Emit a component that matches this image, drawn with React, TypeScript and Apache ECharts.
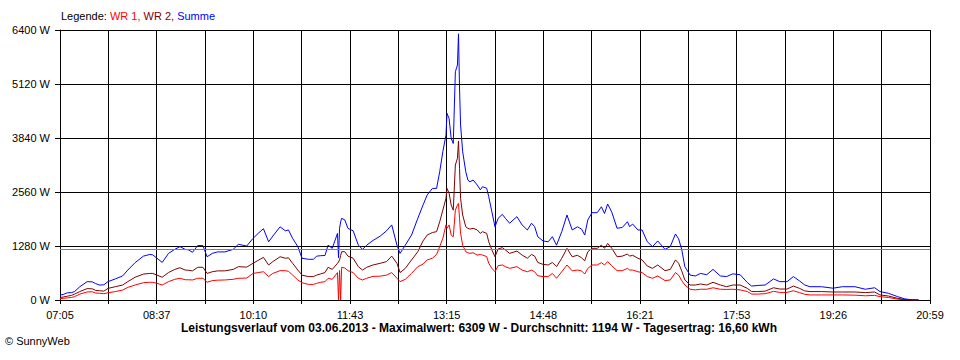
import React, { useEffect, useRef } from "react";
import * as echarts from "echarts";

const times = [
  "07:05","07:08","07:12","07:16","07:19","07:24","07:31","07:36","07:39","07:43","07:47","07:51","07:58",
  "08:05","08:10","08:17","08:25","08:31","08:34","08:38","08:43","08:49","08:55","09:00","09:05","09:08",
  "09:12","09:17","09:22","09:26","09:31","09:36","09:43","09:51","09:56","10:04","10:10","10:15","10:20",
  "10:25","10:29","10:36","10:41","10:44","10:48","10:53","10:57","11:03","11:08","11:11","11:15","11:19",
  "11:22","11:26","11:31","11:32","11:33","11:34","11:35","11:38","11:41","11:46","11:51","11:55","11:59",
  "12:05","12:12","12:18","12:23","12:28","12:31","12:36","12:42","12:48","12:53","12:57","13:02","13:06",
  "13:09","13:12","13:15","13:16","13:18","13:20","13:22","13:24","13:26","13:27","13:28","13:29","13:31",
  "13:34","13:36","13:38","13:41","13:45","13:48","13:50","13:54","13:56","13:59","14:02","14:05","14:09",
  "14:12","14:16","14:23","14:28","14:33","14:37","14:40","14:43","14:48","14:53","14:57","15:01","15:06",
  "15:11","15:16","15:21","15:25","15:28","15:31","15:35","15:40","15:44","15:47","15:50","15:54","15:59",
  "16:04","16:09","16:11","16:14","16:19","16:23","16:28","16:33","16:38","16:45","16:50","16:55","16:58",
  "17:01","17:04","17:09","17:14","17:19","17:25","17:31","17:38","17:44","17:50","17:57","18:04","18:08",
  "18:14","18:21","18:29","18:35","18:42","18:48","18:54","18:59","19:04","19:15","19:26","19:35","19:47",
  "19:57","20:06","20:11","20:19","20:28","20:35","20:42","20:48"
];

const wr1 = [
  30,40,50,60,80,140,190,195,165,160,150,170,200,
  235,300,355,410,420,420,395,355,435,490,515,480,480,
  475,515,515,420,460,470,475,490,515,520,630,650,670,
  555,630,695,695,680,590,475,410,370,370,395,420,435,
  515,490,650,0,700,0,775,760,695,650,515,475,515,
  560,565,590,650,515,435,490,630,790,850,950,990,1080,
  1265,1460,1780,1700,1780,1540,1500,2130,2250,2290,1935,1580,1300,
  1145,1120,1105,1120,1065,1080,1065,1030,870,750,670,815,830,
  790,750,790,710,670,710,670,575,555,555,630,515,670,
  830,690,710,690,615,750,830,830,885,830,910,810,695,
  695,750,710,710,670,650,555,515,570,460,475,650,590,
  460,355,255,240,255,255,290,255,250,255,240,200,140,
  140,150,205,180,180,220,175,135,120,120,120,120,115,
  100,110,80,60,20,5,0,0
];

const wr2 = [
  60,70,90,110,140,200,270,265,230,220,210,275,315,
  355,435,540,615,630,630,590,540,650,725,765,710,705,
  690,775,775,630,670,690,690,725,790,780,870,940,1010,
  830,910,1025,990,1000,870,710,590,555,555,590,620,650,
  775,725,870,900,950,1050,1145,1145,1040,990,790,710,775,
  830,870,910,1040,870,650,750,950,1145,1400,1540,1600,1620,
  1855,2130,2410,2645,2530,2250,2130,3200,3360,3770,3120,2410,2015,
  1735,1700,1680,1700,1660,1580,1620,1580,1380,1185,1025,1210,1240,
  1185,1105,1160,1065,990,1080,1040,890,845,830,890,790,990,
  1225,1025,1060,1000,930,1145,1225,1225,1300,1225,1340,1225,1025,
  1040,1090,1040,1060,990,950,805,750,830,695,725,950,870,
  690,475,355,355,380,355,420,355,315,355,355,275,200,
  200,210,290,260,260,330,275,215,200,200,190,190,190,
  175,190,120,95,40,10,0,0
];

const summe = [
  120,130,170,175,200,315,435,430,390,355,360,435,500,
  570,710,885,1040,1080,1070,990,890,1105,1200,1265,1200,1190,
  1130,1290,1290,1025,1105,1140,1140,1200,1320,1280,1460,1580,1690,
  1380,1515,1735,1640,1660,1460,1265,990,965,965,1040,1050,1055,
  1300,1225,1580,1000,1700,1850,1935,1900,1700,1640,1300,1200,1300,
  1410,1515,1640,1780,1300,1105,1300,1540,1935,2250,2490,2645,2645,
  3040,3515,3910,4425,4300,3830,3710,5410,5570,6309,5025,4150,3515,
  3040,2845,2800,2845,2725,2610,2685,2650,2450,2090,1735,1935,2030,
  1935,1820,1975,1780,1660,1820,1740,1500,1400,1380,1500,1300,1620,
  2015,1660,1735,1680,1540,1900,2070,2070,2210,2050,2275,2080,1700,
  1720,1855,1740,1800,1660,1660,1380,1265,1400,1200,1265,1565,1450,
  1200,790,590,570,630,600,725,570,555,620,600,410,330,
  345,355,500,435,435,555,450,355,315,315,280,315,315,
  255,290,200,160,80,25,5,0
];

const yTicks = [0, 1280, 2560, 3840, 5120, 6400];
const average = 1194;
const startTime = "07:05";
const endTime = "20:59";
const xDivisions = 18;

const legendText = ["Legende: ", "WR 1, ", "WR 2, ", "Summe"];
const titleText =
  "Leistungsverlauf vom 03.06.2013 - Maximalwert: 6309 W - Durchschnitt: 1194 W - Tagesertrag: 16,60 kWh";
const copyrightText = "\u00A9 SunnyWeb";

const toSec = (t: string) => {
  const [h, m] = t.split(":").map(Number);
  return (h * 60 + m) * 60;
};

const FONT = '"Liberation Sans", Arial, sans-serif';

export default function App() {
  const ref = useRef<HTMLDivElement>(null);

  useEffect(() => {
    if (!ref.current) return;
    const chart = echarts.init(ref.current, null, { renderer: "svg" });
    const t0 = toSec(startTime);
    const span = toSec(endTime) - t0;
    const step = span / xDivisions;
    const mk = (arr: number[]) => times.map((t, i) => [toSec(t) - t0, arr[i]]);
    const pad = (n: number) => (n < 10 ? "0" : "") + n;

    chart.setOption({
      animation: false,
      backgroundColor: "#ffffff",
      textStyle: { fontFamily: FONT },
      grid: { left: 60, right: 30, top: 30, bottom: 60, containLabel: false },
      xAxis: {
        type: "value",
        min: 0,
        max: span,
        interval: step,
        axisLine: { show: true, lineStyle: { color: "#000", width: 1 } },
        axisTick: { show: true, length: 4, lineStyle: { color: "#000" } },
        splitLine: { show: true, lineStyle: { color: "#000", width: 1 } },
        axisLabel: {
          color: "#000",
          fontSize: 11,
          fontFamily: FONT,
          margin: 9,
          showMinLabel: true,
          showMaxLabel: true,
          formatter: (v: number) => {
            const i = Math.round(v / step);
            if (i % 2 !== 0) return "";
            const total = Math.floor((t0 + v) / 60 + 1e-6);
            return pad(Math.floor(total / 60)) + ":" + pad(total % 60);
          },
        },
      },
      yAxis: {
        type: "value",
        min: yTicks[0],
        max: yTicks[yTicks.length - 1],
        interval: yTicks[1] - yTicks[0],
        axisLine: { show: true, lineStyle: { color: "#000", width: 1 } },
        axisTick: { show: true, length: 5, lineStyle: { color: "#000" } },
        splitLine: { show: true, lineStyle: { color: "#000", width: 1 } },
        axisLabel: {
          color: "#000",
          fontSize: 11,
          fontFamily: FONT,
          margin: 10,
          formatter: (v: number) => v + " W",
        },
      },
      series: [
        {
          name: "WR 1",
          type: "line",
          data: mk(wr1),
          symbol: "none",
          lineStyle: { color: "#ff0000", width: 1 },
          itemStyle: { color: "#ff0000" },
        },
        {
          name: "WR 2",
          type: "line",
          data: mk(wr2),
          symbol: "none",
          lineStyle: { color: "#800000", width: 1 },
          itemStyle: { color: "#800000" },
        },
        {
          name: "Summe",
          type: "line",
          data: mk(summe),
          symbol: "none",
          lineStyle: { color: "#0000ff", width: 1 },
          itemStyle: { color: "#0000ff" },
          markLine: {
            silent: true,
            symbol: ["none", "none"],
            label: { show: false },
            lineStyle: { color: "#808080", type: "solid", width: 1 },
            data: [{ yAxis: average }],
          },
        },
      ],
      graphic: [
        {
          type: "text",
          x: 61,
          y: 16,
          style: {
            text:
              "{k|" + legendText[0] + "}{a|" + legendText[1] + "}{b|" + legendText[2] + "}{c|" + legendText[3] + "}",
            font: "11px " + FONT,
            verticalAlign: "middle",
            textVerticalAlign: "middle",
            rich: {
              k: { fill: "#000000", color: "#000000", fontSize: 11, fontFamily: FONT },
              a: { fill: "#ff0000", color: "#ff0000", fontSize: 11, fontFamily: FONT },
              b: { fill: "#800000", color: "#800000", fontSize: 11, fontFamily: FONT },
              c: { fill: "#0000ff", color: "#0000ff", fontSize: 11, fontFamily: FONT },
            },
          },
        },
        {
          type: "text",
          x: 479,
          y: 328,
          style: {
            text: titleText,
            font: "bold 12px " + FONT,
            fill: "#000",
            align: "center",
            textAlign: "center",
            verticalAlign: "middle",
            textVerticalAlign: "middle",
          },
        },
        {
          type: "text",
          x: 5,
          y: 341,
          style: {
            text: copyrightText,
            font: "11px " + FONT,
            fill: "#000",
            verticalAlign: "middle",
            textVerticalAlign: "middle",
          },
        },
      ],
    });
    return () => chart.dispose();
  }, []);

  return (
    <div
      ref={ref}
      style={{ position: "absolute", left: 0, top: 0, width: 960, height: 360 }}
    />
  );
}
